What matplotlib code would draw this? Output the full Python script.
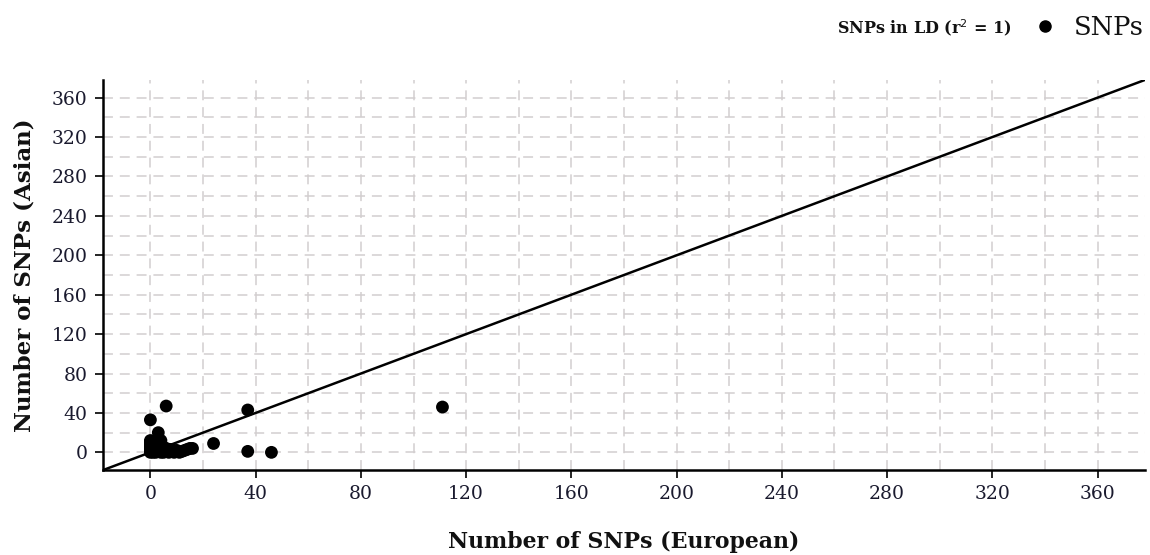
import matplotlib
matplotlib.use("Agg")
import matplotlib.pyplot as plt
from matplotlib.ticker import MultipleLocator

# SNP counts in LD (r^2 = 1): European vs Asian
european = [0, 0, 0, 0, 0, 0, 0, 1, 1, 1, 1, 1, 2, 2, 2, 2, 2, 3, 3, 3, 3, 4, 4, 4,
            5, 5, 5, 6, 6, 7, 7, 8, 8, 9, 10, 10, 11, 12, 13, 14, 15, 16,
            0, 6, 3, 4, 24, 37, 37, 46, 111]
asian = [0, 2, 4, 6, 8, 10, 12, 0, 3, 5, 8, 11, 0, 2, 4, 6, 9, 1, 3, 6, 8, 0, 2, 5,
         0, 3, 5, 1, 4, 0, 3, 2, 3, 0, 1, 2, 0, 1, 2, 3, 4, 4,
         33, 47, 20, 12, 9, 43, 1, 0, 46]

x_ticks = [0, 40, 80, 120, 160, 200, 240, 280, 320, 360]
y_ticks = [0, 40, 80, 120, 160, 200, 240, 280, 320, 360]
axis_limits = (-18, 378)

serif = ["DejaVu Serif"]
tick_color = "#1a1a2e"

fig = plt.figure(figsize=(11.5, 5.55), dpi=100)
ax = fig.add_axes([0.0896, 0.153, 0.906, 0.703])

ax.set_xlim(*axis_limits)
ax.set_ylim(*axis_limits)

# grid every 20 units
ax.xaxis.set_minor_locator(MultipleLocator(20))
ax.yaxis.set_minor_locator(MultipleLocator(20))
ax.set_xticks(x_ticks)
ax.set_yticks(y_ticks)
ax.grid(True, which="both", color="#d2cecf", linestyle=(0, (6.5, 4.5)), linewidth=1.1)
ax.set_axisbelow(True)
ax.tick_params(which="minor", length=0)
ax.tick_params(which="major", length=6, width=1.2, direction="out", colors="black",
               labelcolor=tick_color, labelsize=13.5, pad=5)
for lab in ax.get_xticklabels() + ax.get_yticklabels():
    lab.set_family(serif)

for side in ("top", "right"):
    ax.spines[side].set_visible(False)
for side in ("left", "bottom"):
    ax.spines[side].set_linewidth(1.8)
    ax.spines[side].set_color("black")

# identity line
ax.plot(axis_limits, axis_limits, color="black", linewidth=1.8, zorder=2)

ax.scatter(european, asian, s=85, color="black", edgecolors="none", zorder=3)

ax.set_xlabel("Number of SNPs (European)", family=serif, fontweight="bold",
              fontsize=15.8, labelpad=20, color="#111111")
ax.set_ylabel("Number of SNPs (Asian)", family=serif, fontweight="bold",
              fontsize=16.5, labelpad=12, color="#111111")

# legend header
fig.text(0.879, 0.950, r"SNPs in LD (r$^2$ = 1)", family=serif, fontweight="bold",
         fontsize=11.5, ha="right", va="center", color="#111111")
fig.lines.append(plt.Line2D([0.909], [0.953], marker="o", markersize=8,
                            color="black", linestyle="none",
                            transform=fig.transFigure))
fig.text(0.934, 0.950, "SNPs", family=serif, fontsize=18.5, ha="left", va="center",
         color="#111111")

fig.savefig("out.png", dpi=100)
